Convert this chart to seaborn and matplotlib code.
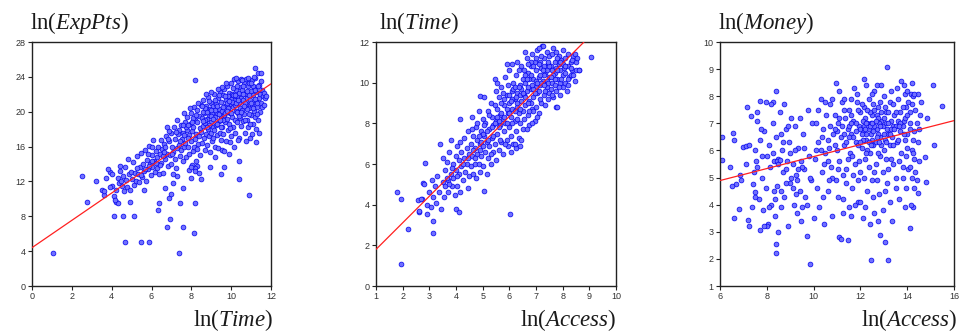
import matplotlib
matplotlib.use("Agg")
import matplotlib.pyplot as plt
import seaborn as sns
import pandas as pd

# ---------------- data ----------------
# Panel 1: ln(Time) vs ln(ExpPts)
p1_points = [
    (1.05, 3.8), (2.5, 12.6), (2.74, 9.6), (3.2, 12.0), (3.5, 11.0), (3.6, 10.5), (3.9, 13.1), (4.0, 11.5),
    (4.13, 8.0), (4.2, 9.6), (4.3, 9.5), (4.4, 13.8), (4.57, 8.0), (4.65, 5.1), (5.1, 8.0), (4.9, 9.6),
    (5.45, 5.05), (5.87, 5.05), (6.34, 8.7), (6.4, 9.5), (6.76, 6.75), (6.93, 7.66), (6.86, 10.1), (7.1, 11.8),
    (7.38, 3.75), (7.43, 9.5), (7.6, 6.75), (7.6, 11.3), (8.15, 6.05), (8.2, 9.5), (8.17, 23.6), (8.5, 12.3),
    (9.5, 12.8), (9.66, 13.7), (9.9, 15.2), (10.4, 12.3), (10.4, 14.3), (10.9, 10.4), (11.25, 16.5), (11.2, 25.0),
    (8.3, 13.8), (8.2, 13.5), (7.9, 13.3), (6.7, 11.2), (7.3, 12.6), (7.0, 10.6), (8.0, 12.4), (5.6, 11.0),
    (3.6, 10.9), (3.7, 12.4), (3.8, 13.4), (3.9, 11.4), (4.0, 12.8), (4.1, 10.3), (4.15, 9.9), (4.2, 11.0),
    (4.3, 12.4), (4.35, 11.8), (4.4, 13.2), (4.45, 12.0),
    (4.5, 11.5), (4.55, 12.6), (4.6, 10.9), (4.65, 13.6), (4.7, 12.2), (4.75, 11.4), (4.8, 14.6), (4.85, 12.9),
    (4.9, 11.0), (4.95, 13.1), (5.0, 12.3), (5.05, 14.2), (5.1, 11.6), (5.15, 13.0), (5.2, 12.1), (5.25, 14.9),
    (5.3, 12.8), (5.35, 11.9), (5.4, 13.6), (5.45, 15.3),
    (5.5, 12.5), (5.55, 14.0), (5.6, 13.2), (5.65, 15.6), (5.7, 12.0), (5.75, 14.5), (5.8, 13.4), (5.85, 16.1),
    (5.9, 14.0), (5.95, 12.7), (6.0, 15.0), (6.05, 13.6), (6.1, 16.7), (6.15, 14.4), (6.2, 13.1), (6.25, 15.5),
    (6.3, 14.8), (6.35, 16.0), (6.4, 12.9), (6.45, 15.2), (6.5, 14.1), (6.5, 16.8), (6.3, 13.5), (6.0, 14.3),
    (5.8, 15.2),
    (6.55, 15.7), (6.6, 13.0), (6.65, 16.3), (6.7, 14.6), (6.75, 17.2), (6.8, 15.2), (6.85, 13.8), (6.9, 16.6),
    (6.95, 15.0), (7.0, 17.6), (7.0, 14.0), (7.05, 16.0), (7.1, 15.4), (7.15, 18.2), (7.2, 16.9), (7.25, 13.5),
    (7.3, 15.8), (7.35, 17.4), (7.4, 16.2), (7.45, 14.9), (7.5, 18.5), (7.5, 15.6), (6.7, 16.0), (6.9, 17.8),
    (7.2, 14.6), (7.4, 17.9), (6.6, 14.9), (7.1, 12.9), (7.3, 19.0), (6.8, 18.3),
    (7.55, 16.9), (7.6, 14.3), (7.6, 17.6), (7.65, 15.9), (7.7, 18.8), (7.7, 16.4), (7.75, 14.8), (7.8, 17.9),
    (7.8, 19.4), (7.85, 16.0), (7.9, 17.3), (7.9, 15.2), (7.95, 18.6), (8.0, 16.6), (8.0, 19.9), (8.05, 17.8),
    (8.1, 15.5), (8.1, 18.3), (8.15, 20.5), (8.2, 16.9), (8.2, 19.0), (8.25, 14.4), (8.25, 17.5), (8.3, 18.8),
    (8.3, 20.2), (8.35, 16.3), (8.4, 19.5), (8.4, 17.2), (8.45, 15.0), (8.45, 18.1), (8.5, 20.8), (8.5, 17.7),
    (7.65, 19.8), (7.75, 18.2), (7.95, 20.4), (8.05, 13.9), (8.15, 16.0), (8.35, 21.0), (7.85, 17.0), (8.1, 19.3),
    (8.3, 15.7), (7.6, 18.5), (8.2, 13.2), (8.4, 13.0), (8.0, 13.6),
    (8.55, 19.3), (8.55, 16.4), (8.6, 18.4), (8.6, 21.3), (8.65, 17.0), (8.65, 19.9), (8.7, 15.6), (8.7, 18.7),
    (8.75, 20.6), (8.75, 17.5), (8.8, 19.2), (8.8, 16.2), (8.85, 21.7), (8.85, 18.0), (8.9, 19.6), (8.9, 17.2),
    (8.95, 20.3), (8.95, 15.4), (9.0, 18.8), (9.0, 21.0), (9.0, 17.6), (9.05, 19.9), (9.05, 16.6), (9.1, 18.2),
    (9.1, 20.6), (9.15, 22.0), (9.15, 17.9), (9.2, 19.4), (9.2, 16.0), (9.25, 20.9), (9.25, 18.5), (9.3, 19.8),
    (9.3, 17.3), (9.35, 21.6), (9.35, 15.8), (9.4, 18.9), (9.4, 20.3), (9.45, 22.3), (9.45, 17.6), (9.5, 19.5),
    (9.5, 21.1), (9.5, 16.8), (8.6, 20.0), (8.7, 19.0), (8.8, 20.0), (8.9, 18.5), (9.0, 19.5), (9.1, 19.2),
    (9.2, 20.2), (9.3, 18.6), (9.4, 19.7), (8.75, 22.0), (9.2, 14.8), (9.55, 15.6), (8.95, 13.6),
    (9.55, 20.1), (9.55, 18.2), (9.6, 21.9), (9.6, 17.4), (9.65, 19.6), (9.65, 22.6), (9.7, 18.8), (9.7, 20.7),
    (9.75, 16.6), (9.75, 21.4), (9.8, 19.2), (9.8, 23.0), (9.85, 17.9), (9.85, 20.4), (9.9, 22.2), (9.9, 18.6),
    (9.95, 19.9), (9.95, 21.6), (10.0, 17.2), (10.0, 20.9), (10.0, 23.3), (10.05, 19.4), (10.05, 22.0), (10.1, 18.3),
    (10.1, 20.5), (10.15, 23.7), (10.15, 21.3), (10.2, 19.0), (10.2, 17.6), (10.25, 22.5), (10.25, 20.1), (10.3, 21.8),
    (10.3, 18.8), (10.35, 23.5), (10.35, 19.8), (10.4, 21.0), (10.4, 17.0), (10.45, 22.8), (10.45, 20.4), (10.5, 18.4),
    (10.5, 21.6), (10.5, 23.8), (9.6, 20.5), (9.7, 19.8), (9.8, 21.0), (9.9, 20.0), (10.0, 21.5), (10.1, 21.9),
    (10.2, 20.8), (10.3, 20.0), (10.4, 22.2), (9.75, 23.3), (9.65, 15.5), (9.95, 16.5), (10.15, 16.0), (10.35, 16.7),
    (9.85, 21.8), (10.05, 21.1), (10.25, 21.0), (10.45, 19.3),
    (10.55, 20.2), (10.55, 22.5), (10.6, 18.9), (10.6, 21.3), (10.65, 23.4), (10.65, 19.7), (10.7, 22.0), (10.7, 17.6),
    (10.75, 20.9), (10.75, 23.8), (10.8, 19.0), (10.8, 21.6), (10.85, 22.9), (10.85, 18.2), (10.9, 20.4), (10.9, 23.3),
    (10.95, 21.4), (10.95, 17.0), (11.0, 19.6), (11.0, 22.4), (11.05, 20.8), (11.05, 23.6), (11.1, 18.6), (11.1, 21.9),
    (11.15, 20.1), (11.15, 22.8), (11.2, 19.4), (11.2, 23.9), (11.25, 21.2), (11.25, 18.0), (11.3, 22.3), (11.3, 20.5),
    (11.35, 24.5), (11.35, 19.0), (11.4, 21.6), (11.4, 23.1), (11.45, 20.0), (11.45, 22.0), (11.5, 21.0), (11.5, 24.4),
    (11.55, 22.5), (11.55, 20.5), (11.6, 21.8), (11.65, 22.1), (11.7, 21.6), (11.75, 21.8), (10.6, 22.0), (10.7, 21.0),
    (10.8, 20.3), (10.9, 21.9), (11.0, 21.0), (11.1, 23.0), (11.2, 21.5), (11.3, 19.7), (11.4, 17.6), (10.95, 18.6),
    (11.05, 17.5), (10.75, 16.6),
    (8.6, 18.9), (8.7, 20.4), (8.8, 18.3), (8.9, 21.2), (9.0, 20.2), (9.1, 17.0), (9.2, 21.3), (9.3, 20.6),
    (9.4, 21.9), (9.5, 18.3), (9.6, 19.1), (9.7, 21.8), (9.8, 20.1), (9.9, 21.2), (10.0, 19.8), (10.1, 22.7),
    (10.2, 21.9), (10.3, 22.9), (10.4, 19.5), (10.5, 20.0), (10.6, 23.0), (10.7, 19.0), (10.8, 22.4), (10.9, 19.7),
    (11.0, 23.3), (11.1, 20.4), (11.2, 22.5), (11.3, 21.0), (11.4, 22.6), (11.5, 23.5), (10.25, 23.9), (10.55, 23.6),
    (10.85, 23.9), (11.15, 24.0), (9.55, 22.8), (9.35, 22.6), (9.0, 22.3), (8.55, 20.6), (8.25, 19.6), (8.05, 18.8),
    (7.85, 18.5), (7.65, 17.3), (7.45, 16.6), (7.25, 17.7), (7.05, 15.1), (6.85, 16.9), (6.65, 15.4), (6.45, 13.9),
    (6.25, 14.1), (6.05, 15.9), (5.85, 13.8), (5.65, 13.4), (5.45, 12.7), (5.25, 13.5), (9.95, 18.1), (10.35, 21.4),
    (10.65, 20.6), (11.35, 22.9), (11.65, 20.8), (9.45, 19.0),
]
p1_fit_x = [0.0, 12.0]
p1_fit_y = [4.4, 23.2]

# Panel 2: ln(Access) vs ln(Time)
p2_points = [
    (1.95, 1.1), (1.78, 4.6), (1.93, 4.26), (2.19, 2.8), (3.15, 2.6), (3.15, 3.2), (2.92, 3.55), (2.6, 3.66),
    (2.56, 4.25), (2.74, 4.26), (2.84, 6.06), (2.78, 5.08), (6.01, 3.52), (5.05, 4.69), (4.0, 3.8), (4.1, 3.65),
    (4.15, 8.2), (4.9, 9.36), (5.45, 10.2), (5.93, 10.9), (9.06, 11.25), (8.6, 10.6), (7.76, 8.8), (7.24, 11.8),
    (2.6, 3.7), (2.7, 4.3), (2.8, 5.0), (2.9, 4.0), (3.0, 4.6), (3.05, 3.9), (3.1, 5.2), (3.15, 4.4),
    (3.2, 4.9), (3.25, 4.1), (3.3, 5.4), (3.35, 4.6), (3.4, 7.0), (3.45, 3.8), (3.5, 5.1),
    (3.55, 4.4), (3.6, 5.7), (3.6, 4.9), (3.65, 6.1), (3.7, 5.2), (3.7, 4.6), (3.75, 6.6), (3.8, 5.5),
    (3.8, 7.2), (3.85, 4.9), (3.9, 6.0), (3.9, 5.3), (3.95, 4.5), (4.0, 6.4), (4.0, 5.7), (4.05, 6.9),
    (4.05, 4.9), (4.1, 5.5), (4.1, 6.2), (4.15, 7.1), (4.15, 4.6), (4.2, 5.9), (4.2, 6.6), (4.25, 5.2),
    (4.3, 6.3), (4.3, 7.3), (4.35, 5.6), (4.4, 6.0), (4.4, 6.8), (4.45, 4.8), (4.45, 7.6), (4.5, 5.4),
    (4.5, 6.5), (3.5, 6.3), (3.75, 5.0),
    (4.55, 7.0), (4.55, 5.9), (4.6, 6.4), (4.6, 8.3), (4.65, 5.5), (4.65, 7.4), (4.7, 6.8), (4.7, 6.0),
    (4.75, 7.8), (4.75, 5.3), (4.8, 6.5), (4.8, 7.2), (4.85, 8.6), (4.85, 6.0), (4.9, 7.0), (4.9, 5.6),
    (4.95, 7.6), (4.95, 6.4), (5.0, 8.2), (5.0, 6.9), (5.0, 5.9), (5.05, 7.4), (5.05, 9.3), (5.1, 6.6),
    (5.1, 8.0), (5.15, 7.1), (5.15, 5.5), (5.2, 8.6), (5.2, 6.3), (5.25, 7.7), (5.25, 6.9), (5.3, 9.0),
    (5.3, 6.0), (5.35, 7.3), (5.35, 8.3), (5.4, 6.6), (5.4, 7.9), (5.45, 8.9), (5.45, 7.0), (5.5, 6.2),
    (5.5, 8.1), (5.5, 9.6), (4.6, 7.7), (4.8, 8.0), (5.0, 7.5), (5.2, 7.2), (5.4, 7.4), (4.7, 6.3),
    (4.9, 6.7), (5.3, 6.5),
    (5.55, 7.5), (5.55, 8.7), (5.6, 6.7), (5.6, 9.3), (5.65, 7.9), (5.65, 8.4), (5.7, 7.1), (5.7, 9.8),
    (5.75, 8.2), (5.75, 6.5), (5.8, 8.9), (5.8, 7.6), (5.85, 10.3), (5.85, 8.0), (5.9, 7.2), (5.9, 9.4),
    (5.95, 8.5), (5.95, 6.9), (6.0, 9.0), (6.0, 7.8), (6.0, 10.6), (6.05, 8.3), (6.05, 7.4), (6.1, 9.6),
    (6.1, 8.7), (6.15, 7.0), (6.15, 10.0), (6.2, 8.1), (6.2, 9.2), (6.25, 7.6), (6.25, 10.4), (6.3, 8.8),
    (6.3, 9.5), (6.35, 7.3), (6.35, 8.5), (6.4, 9.9), (6.4, 8.0), (6.45, 10.8), (6.45, 9.1), (6.5, 7.7),
    (6.5, 8.6), (6.5, 10.2), (5.6, 8.1), (5.7, 8.5), (5.8, 8.3), (5.9, 8.7), (6.0, 8.5), (6.1, 8.0),
    (6.2, 8.6), (6.3, 9.0), (6.4, 9.4), (5.75, 9.5), (5.95, 9.9), (6.15, 9.7), (6.35, 10.6), (5.65, 7.2),
    (5.85, 7.0), (6.05, 6.6), (6.25, 6.8), (6.45, 7.2), (5.55, 10.0), (6.1, 10.9), (6.3, 11.0), (6.2, 7.0),
    (6.4, 6.9),
    (6.55, 9.4), (6.55, 8.2), (6.6, 10.0), (6.6, 8.9), (6.65, 11.2), (6.65, 9.6), (6.7, 8.4), (6.7, 10.5),
    (6.75, 9.1), (6.75, 7.9), (6.8, 10.8), (6.8, 9.7), (6.85, 8.7), (6.85, 11.4), (6.9, 9.3), (6.9, 10.2),
    (6.95, 8.1), (6.95, 11.0), (7.0, 9.8), (7.0, 10.6), (7.0, 8.8), (7.05, 11.6), (7.05, 9.5), (7.1, 10.3),
    (7.1, 8.5), (7.15, 11.0), (7.15, 9.9), (7.2, 10.7), (7.2, 9.0), (7.25, 11.8), (7.25, 10.1), (7.3, 9.4),
    (7.3, 11.2), (7.35, 10.5), (7.35, 8.9), (7.4, 11.5), (7.4, 9.8), (7.45, 10.9), (7.45, 9.2), (7.5, 10.3),
    (7.5, 11.3), (6.6, 9.3), (6.7, 9.8), (6.8, 9.0), (6.9, 9.7), (7.0, 10.1), (7.1, 9.6), (7.2, 10.0),
    (7.3, 10.4), (7.4, 10.1), (6.55, 10.6), (6.75, 10.2), (6.95, 9.5), (7.15, 10.4), (7.35, 9.6), (6.65, 7.7),
    (6.85, 8.0), (7.05, 8.3), (6.6, 11.5), (7.1, 11.7), (6.7, 9.0), (6.9, 8.6), (7.3, 10.8), (7.45, 10.0),
    (6.8, 11.0),
    (7.55, 9.7), (7.55, 10.8), (7.6, 11.4), (7.6, 10.0), (7.65, 9.3), (7.65, 11.7), (7.7, 10.5), (7.7, 11.0),
    (7.75, 9.6), (7.75, 11.5), (7.8, 10.2), (7.8, 8.8), (7.85, 10.9), (7.85, 11.3), (7.9, 10.0), (7.9, 9.4),
    (7.95, 11.1), (8.0, 10.4), (8.0, 9.8), (8.0, 11.6), (8.05, 10.7), (8.1, 11.2), (8.1, 10.0), (8.15, 9.6),
    (8.2, 10.8), (8.2, 11.4), (8.25, 10.3), (8.3, 11.0), (8.35, 10.6), (8.4, 11.3), (8.45, 10.1), (8.5, 11.0),
    (8.5, 10.6), (8.6, 10.6), (7.6, 10.6), (7.7, 9.9), (7.8, 11.2), (7.9, 10.6), (8.0, 10.9), (8.1, 10.5),
    (8.2, 10.2), (8.3, 10.4), (7.5, 9.5), (7.75, 10.7), (8.45, 11.4),
    (5.6, 7.8), (5.7, 9.0), (5.8, 9.2), (5.9, 8.0), (6.0, 9.4), (6.1, 9.2), (6.2, 9.8), (6.3, 8.2),
    (6.4, 8.7), (6.5, 9.5), (6.6, 10.4), (6.7, 10.9), (6.8, 10.4), (6.9, 10.8), (7.0, 11.2), (7.1, 10.9),
    (7.2, 11.3), (7.3, 9.9), (7.4, 10.6), (7.5, 10.8), (7.6, 9.4), (7.7, 10.2), (7.8, 10.6), (7.9, 11.0),
    (8.1, 10.8), (8.2, 9.9), (8.3, 10.7), (8.4, 10.4), (6.05, 9.1), (6.25, 9.3), (6.45, 9.7), (6.65, 10.2),
    (6.85, 9.9), (7.05, 10.0), (7.25, 10.6), (7.45, 11.0), (7.65, 10.4), (7.85, 9.8), (5.45, 8.0), (5.25, 8.4),
    (5.05, 7.9), (4.85, 7.4), (4.65, 6.7), (4.45, 6.3), (4.25, 6.0), (4.05, 5.4), (3.85, 5.8), (3.65, 5.3),
    (5.35, 7.8), (5.55, 8.3), (5.15, 7.6), (4.95, 7.1), (6.35, 9.8), (6.75, 8.6), (7.15, 9.2), (7.55, 10.3),
    (7.95, 10.2), (8.35, 11.1), (8.55, 11.2),
]
p2_fit_x = [1.0, 8.8]
p2_fit_y = [1.8, 12.0]

# Panel 3: ln(Access) vs ln(Money)
p3_points = [
    (6.1, 6.5), (6.1, 5.65), (6.43, 5.38), (6.57, 6.66), (6.6, 6.4), (6.6, 3.52), (6.7, 4.76), (6.8, 3.83),
    (6.84, 5.1), (7.0, 6.14), (7.12, 6.17), (7.25, 6.2), (7.16, 7.6), (7.33, 7.27), (7.19, 3.43), (7.25, 3.23),
    (7.4, 4.78), (7.48, 4.48), (7.58, 7.4), (7.6, 7.1), (7.7, 3.06), (7.73, 7.82), (7.95, 7.79), (8.28, 7.8),
    (8.41, 8.2), (8.41, 2.55), (8.41, 2.2), (8.75, 7.7),
    (7.45, 5.2), (7.5, 6.0), (7.55, 5.6), (7.65, 4.2), (7.7, 6.4), (7.8, 5.0), (7.85, 3.8), (7.9, 6.7),
    (7.95, 4.6), (8.0, 5.8), (8.05, 3.3), (8.1, 6.2), (8.15, 5.4), (8.2, 4.0), (8.25, 7.0), (8.3, 5.6),
    (8.35, 3.6), (8.4, 6.5), (8.45, 4.7), (8.5, 5.7), (8.55, 7.4), (8.6, 3.9), (8.65, 6.0), (8.7, 5.2),
    (8.75, 4.3), (8.8, 6.8), (8.85, 5.6), (8.9, 3.2), (8.95, 6.3), (9.0, 4.8), (9.05, 7.2), (9.1, 5.5),
    (9.15, 4.0), (9.2, 6.9), (9.25, 5.1), (9.3, 3.7), (9.35, 6.1), (9.4, 4.5), (9.45, 5.6), (9.5, 3.9),
    (9.55, 6.6), (9.6, 5.3), (9.65, 4.3), (9.7, 2.83), (9.75, 7.5), (9.8, 5.8), (9.86, 1.82), (9.9, 4.9),
    (9.95, 7.0), (10.0, 3.5), (7.35, 3.9), (7.6, 5.4), (8.0, 3.2), (8.2, 7.7), (8.5, 3.0), (8.6, 6.6),
    (8.3, 4.5), (8.8, 4.8), (9.0, 5.9), (9.2, 6.0), (9.4, 7.2), (6.9, 4.9), (7.1, 5.5), (6.5, 4.7),
    (8.45, 5.6), (8.5, 5.5), (8.55, 5.65), (8.7, 6.3), (9.1, 4.6), (9.3, 4.9), (9.5, 5.4), (9.7, 4.0),
    (9.85, 5.0), (7.9, 3.2), (8.1, 3.9), (8.35, 4.2), (9.05, 5.0), (9.25, 4.4), (9.45, 3.4), (8.9, 6.9),
    (7.75, 6.8),
    (10.05, 5.7), (10.1, 7.0), (10.15, 4.6), (10.2, 6.3), (10.25, 3.9), (10.3, 7.9), (10.35, 5.2), (10.4, 6.8),
    (10.45, 3.3), (10.5, 5.9), (10.55, 7.3), (10.6, 4.5), (10.65, 6.1), (10.7, 7.7), (10.75, 5.4), (10.8, 3.6),
    (10.85, 6.6), (10.9, 7.3), (10.94, 8.47), (10.95, 4.9), (11.0, 6.0), (11.05, 7.0), (11.1, 2.8), (11.1, 5.6),
    (11.15, 6.5), (11.17, 2.73), (11.2, 7.8), (11.25, 4.2), (11.3, 6.2), (11.35, 7.2), (11.4, 5.3), (11.45, 6.8),
    (11.46, 2.7), (11.5, 3.9), (11.5, 7.5), (11.55, 5.9), (11.6, 6.6), (11.65, 4.6), (11.7, 7.1), (11.72, 8.32),
    (11.75, 5.5), (11.8, 6.3), (11.85, 7.8), (11.9, 4.1), (11.95, 6.9), (12.0, 5.2), (12.0, 7.4), (12.05, 6.1),
    (12.1, 3.5), (12.1, 6.7), (12.14, 8.65), (12.15, 7.6), (12.2, 5.7), (12.25, 6.4), (12.3, 4.5), (12.3, 7.0),
    (12.35, 7.9), (12.4, 5.9), (12.45, 1.96), (12.45, 6.6), (12.5, 4.9), (12.5, 7.3), (12.55, 6.2), (12.6, 8.2),
    (12.6, 3.7), (12.65, 5.5), (12.7, 6.8), (12.75, 7.6), (12.8, 4.4), (12.85, 2.88), (12.85, 6.5), (12.9, 7.1),
    (12.95, 5.2), (13.0, 8.0), (13.0, 6.0), (13.07, 2.64), (13.1, 7.4), (13.12, 9.08), (13.15, 4.8), (13.2, 1.96),
    (13.2, 6.6), (13.25, 7.8), (13.3, 5.7), (13.35, 3.4), (13.4, 6.9), (13.45, 7.3), (13.5, 5.0), (13.55, 6.3),
    (13.6, 7.9), (13.65, 4.2), (13.7, 6.7), (13.74, 8.57), (13.8, 5.4), (13.85, 7.1), (13.9, 3.9), (13.95, 7.6),
    (14.0, 6.1), (14.05, 5.3), (14.1, 3.15), (14.1, 7.0), (14.15, 8.1), (14.2, 8.47), (14.24, 3.93), (14.25, 6.4),
    (14.3, 5.7), (14.35, 7.5), (14.4, 4.9), (14.47, 4.42), (14.5, 6.8), (14.6, 7.8), (14.78, 5.77), (14.8, 4.85),
    (14.85, 7.2), (15.1, 8.42), (15.13, 6.2), (15.5, 7.65),
    (11.0, 6.7), (11.2, 6.9), (11.3, 7.5), (11.4, 6.3), (11.5, 6.9), (11.6, 7.3), (11.7, 6.5), (11.8, 7.0),
    (11.9, 6.2), (12.0, 6.8), (12.05, 7.7), (12.1, 6.4), (12.15, 6.9), (12.2, 7.2), (12.25, 6.6), (12.3, 6.0),
    (12.35, 6.8), (12.4, 7.4), (12.45, 7.0), (12.5, 6.4), (12.55, 7.7), (12.6, 6.9), (12.65, 6.3), (12.7, 7.3),
    (12.75, 6.6), (12.8, 7.0), (12.85, 7.8), (12.9, 6.2), (12.95, 6.9), (13.0, 7.2), (13.05, 6.4), (13.1, 7.0),
    (13.15, 6.8), (13.2, 7.4), (13.25, 6.2), (13.3, 7.1), (13.35, 6.5), (13.4, 7.7), (13.5, 6.9), (13.6, 6.4),
    (13.7, 7.4), (13.8, 6.9), (13.9, 7.2), (14.0, 6.6), (14.1, 7.4), (14.2, 6.0), (14.3, 6.7), (13.9, 8.1),
    (14.0, 8.2), (14.1, 5.4), (14.2, 5.0), (14.25, 5.9), (14.3, 4.6), (13.8, 5.0), (13.75, 5.9), (13.95, 4.6),
    (14.15, 4.0), (11.05, 4.3), (11.25, 3.7), (11.4, 4.8), (11.6, 3.6), (11.75, 4.0), (11.9, 4.9), (12.0, 4.1),
    (12.2, 3.9), (12.4, 3.3), (12.55, 4.3), (12.7, 4.9), (12.75, 3.4), (12.95, 3.8), (13.05, 4.5), (13.25, 4.1),
    (13.4, 5.5), (13.5, 4.6), (13.1, 5.7), (12.85, 5.8), (12.6, 5.2), (12.35, 5.4), (12.15, 5.0), (11.95, 5.6),
    (11.7, 5.1), (11.45, 5.7), (11.25, 5.1), (11.05, 5.3), (10.8, 5.0), (10.6, 5.6), (10.4, 4.3), (10.3, 6.0),
    (10.7, 6.9), (10.9, 6.2), (10.2, 7.5), (10.5, 7.8), (10.8, 7.9), (11.1, 8.2), (11.3, 7.9), (11.6, 7.9),
    (11.85, 8.1), (12.25, 8.4), (12.5, 8.1), (12.7, 8.4), (12.9, 8.4), (13.3, 8.2), (13.55, 8.3), (13.85, 8.4),
    (14.25, 8.0), (14.4, 7.0), (14.45, 6.3), (14.5, 5.6), (14.55, 7.3), (14.45, 8.1), (10.1, 6.0), (10.35, 6.5),
    (10.6, 6.4), (10.65, 4.9), (10.45, 5.5),
    (11.5, 6.5), (11.6, 7.0), (11.8, 6.7), (11.9, 7.5), (12.0, 6.3), (12.1, 7.1), (12.2, 6.8), (12.3, 7.5),
    (12.35, 6.3), (12.4, 6.9), (12.5, 7.0), (12.55, 6.7), (12.6, 7.5), (12.7, 6.5), (12.75, 7.2), (12.8, 6.3),
    (12.9, 7.4), (13.0, 6.6), (13.1, 6.3), (13.2, 7.0), (13.3, 6.8), (13.4, 6.2), (13.5, 7.4), (13.6, 7.1),
    (13.7, 7.0), (13.8, 7.6), (13.9, 6.4), (14.0, 7.3), (14.1, 6.8), (14.2, 7.7), (14.3, 8.1), (12.05, 6.6),
    (12.25, 7.0), (12.45, 6.2), (12.65, 7.1), (12.85, 6.9), (13.05, 7.6), (13.25, 6.6), (13.45, 6.8), (13.65, 6.9),
    (13.85, 6.6), (14.05, 7.8), (11.3, 6.6), (11.1, 7.2), (10.9, 6.8), (11.65, 5.8), (12.25, 5.9), (12.75, 5.9),
    (13.2, 5.3), (13.65, 5.6), (13.95, 5.8), (14.35, 5.2), (9.6, 6.1), (8.8, 5.3), (8.25, 5.9), (7.8, 5.8),
    (8.6, 4.5), (9.35, 5.3), (7.5, 4.3),
]
p3_fit_x = [6.0, 16.0]
p3_fit_y = [4.89, 7.10]

panel_titles = [r"ln($\mathit{ExpPts}$)", r"ln($\mathit{Time}$)", r"ln($\mathit{Money}$)"]
panel_xlabels = [r"ln($\mathit{Time}$)", r"ln($\mathit{Access}$)", r"ln($\mathit{Access}$)"]
x_ticks = [[0, 2, 4, 6, 8, 10, 12], [1, 2, 3, 4, 5, 6, 7, 8, 9, 10], [6, 8, 10, 12, 14, 16]]
y_ticks = [[0, 4, 8, 12, 16, 20, 24, 28], [0, 2, 4, 6, 8, 10, 12], [1, 2, 3, 4, 5, 6, 7, 8, 9, 10]]

# ---------------- style ----------------
sns.set_style("ticks")
plt.rcParams["font.family"] = ["Liberation Sans", "DejaVu Sans"]
plt.rcParams["mathtext.fontset"] = "custom"
plt.rcParams["mathtext.rm"] = "Liberation Serif"
plt.rcParams["mathtext.it"] = "Liberation Serif:italic"

fig = plt.figure(figsize=(9.61, 3.34), dpi=100)
W, H = 961.0, 334.0
axes_px = [(32, 271), (376, 616), (720, 954)]
top_px, bot_px = 42, 286

title_x_px = [30, 379, 718]
xlabel_x_px = [193, 520, 861]

datasets = [(p1_points, p1_fit_x, p1_fit_y), (p2_points, p2_fit_x, p2_fit_y), (p3_points, p3_fit_x, p3_fit_y)]

for i, ((pts, fx, fy), (l, r)) in enumerate(zip(datasets, axes_px)):
    ax = fig.add_axes([l / W, (H - bot_px) / H, (r - l) / W, (bot_px - top_px) / H])
    df = pd.DataFrame(pts, columns=["x", "y"])
    sns.scatterplot(data=df, x="x", y="y", ax=ax, marker="o", s=12,
                    facecolor="#7070ff", edgecolor="#0000ee", linewidth=0.5, legend=False, zorder=2)
    sns.lineplot(x=fx, y=fy, ax=ax, color="#ff2020", linewidth=0.9, zorder=3)
    ax.set_xlim(x_ticks[i][0], x_ticks[i][-1])
    ax.set_ylim(y_ticks[i][0], y_ticks[i][-1])
    ax.set_xticks(x_ticks[i])
    ax.set_yticks(y_ticks[i])
    ax.set_xlabel("")
    ax.set_ylabel("")
    ax.tick_params(direction="out", length=3, width=0.8, labelsize=6.5, pad=1.5,
                   colors="#222222", labelcolor="#333333")
    for sp in ax.spines.values():
        sp.set_visible(True)
        sp.set_linewidth(1.0)
        sp.set_color("#222222")
    fig.text(title_x_px[i] / W, (H - 29) / H, panel_titles[i], fontsize=16.5,
             family="Liberation Serif", ha="left", va="baseline", color="#1a1a1a")
    fig.text(xlabel_x_px[i] / W, (H - 326) / H, panel_xlabels[i], fontsize=16.5,
             family="Liberation Serif", ha="left", va="baseline", color="#1a1a1a")

fig.savefig("out.png", dpi=100)
